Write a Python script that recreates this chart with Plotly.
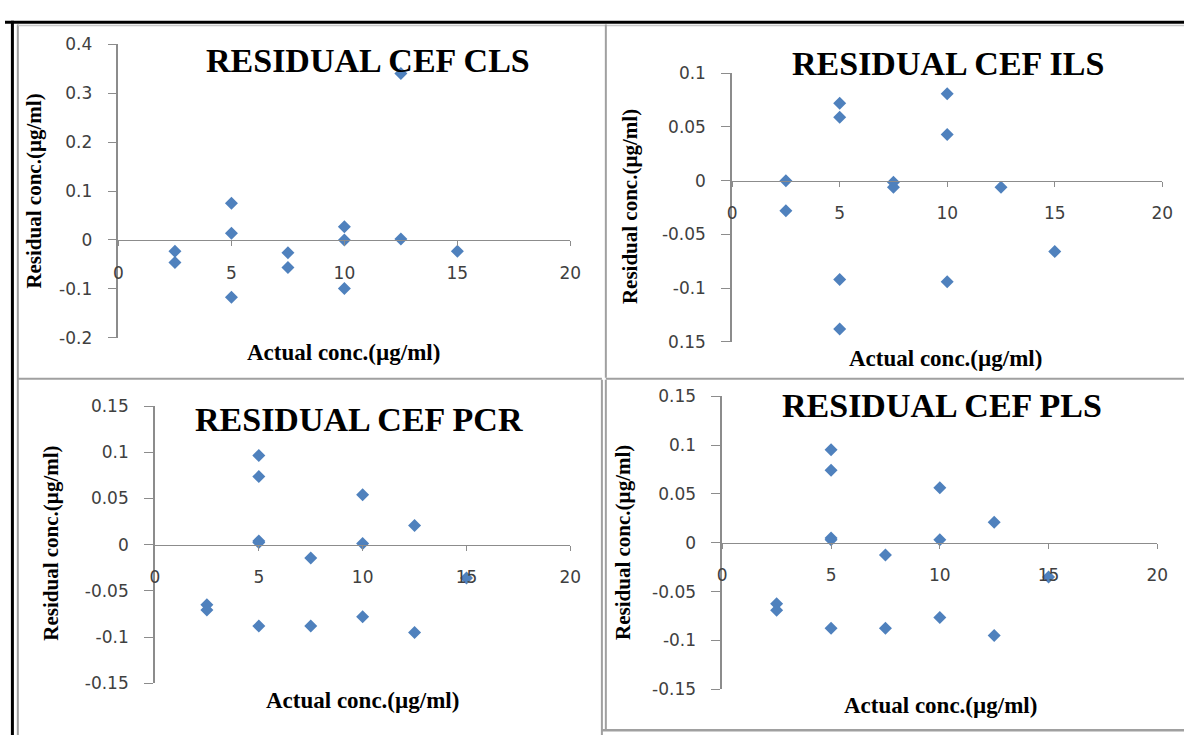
import plotly.graph_objects as go

# ---------------- data ----------------
titles = ["RESIDUAL CEF CLS", "RESIDUAL CEF ILS", "RESIDUAL CEF PCR", "RESIDUAL CEF PLS"]
x_title = "Actual conc.(µg/ml)"
y_title = "Residual conc.(µg/ml)"

cls_x = [2.5, 2.5, 5, 5, 5, 7.5, 7.5, 10, 10, 10, 12.5, 12.5, 15]
cls_y = [-0.023, -0.046, 0.075, 0.014, -0.117, -0.026, -0.056, 0.027, 0.0, -0.099, 0.34, 0.002, -0.023]

ils_x = [2.5, 2.5, 5, 5, 5, 5, 7.5, 7.5, 10, 10, 10, 12.5, 15]
ils_y = [0.0, -0.028, 0.072, 0.059, -0.092, -0.138, -0.0015, -0.006, 0.081, 0.043, -0.094, -0.006, -0.066]

pcr_x = [2.5, 2.5, 5, 5, 5, 5, 5, 7.5, 7.5, 10, 10, 10, 12.5, 12.5, 15]
pcr_y = [-0.065, -0.0705, 0.0965, 0.0737, 0.004, 0.0025, -0.088, -0.0144, -0.088, 0.054, 0.0014, -0.078, 0.0207, -0.095, -0.036]

pls_x = [2.5, 2.5, 5, 5, 5, 5, 5, 7.5, 7.5, 10, 10, 10, 12.5, 12.5, 15]
pls_y = [-0.0625, -0.069, 0.0953, 0.0744, 0.005, 0.003, -0.0874, -0.0126, -0.0874, 0.0565, 0.003, -0.0764, 0.021, -0.095, -0.035]

x_ticks = [0, 5, 10, 15, 20]
x_ticktext = ["0", "5", "10", "15", "20"]

cls_yticks = [-0.2, -0.1, 0, 0.1, 0.2, 0.3, 0.4]
cls_yticktext = ["-0.2", "-0.1", "0", "0.1", "0.2", "0.3", "0.4"]
ils_yticks = [-0.15, -0.1, -0.05, 0, 0.05, 0.1]
ils_yticktext = ["0.15", "-0.1", "-0.05", "0", "0.05", "0.1"]
pcr_yticks = [-0.15, -0.1, -0.05, 0, 0.05, 0.1, 0.15]
pcr_yticktext = ["-0.15", "-0.1", "-0.05", "0", "0.05", "0.1", "0.15"]
pls_yticks = pcr_yticks
pls_yticktext = pcr_yticktext

# ---------------- layout helpers ----------------
W, H = 1195, 745
def px(v):
    return v / W
def py(v):
    return 1 - v / H

panels = [
    # (x data, y data, yticks, yticktext, yrange, plot px box [x0,x1,ytop,ybottom], title pos, xtitle pos, ytitle pos)
    (cls_x, cls_y, cls_yticks, cls_yticktext, [-0.2, 0.4], [115, 573, 35, 337], (368, 52), (343, 352), (29, 186)),
    (ils_x, ils_y, ils_yticks, ils_yticktext, [-0.15, 0.1], [737, 1173, 65, 341], (956, 55), (953, 358), (633, 202)),
    (pcr_x, pcr_y, pcr_yticks, pcr_yticktext, [-0.15, 0.15], [152, 573, 407, 692], (359, 421), (362, 710), (47, 548)),
    (pls_x, pls_y, pls_yticks, pls_yticktext, [-0.15, 0.15], [727, 1168, 397, 698], (950, 406), (948, 715), (627, 547)),
]

axis_color = "#8c8c8c"
tick_font = dict(family="DejaVu Sans", size=17, color="#404040")
serif = "Liberation Serif"
marker_color = "#4F81BD"

fig = go.Figure()
layout = dict(
    width=W, height=H, margin=dict(l=0, r=0, t=0, b=0),
    paper_bgcolor="white", plot_bgcolor="white", showlegend=False,
)
annotations = []
shapes = []

for i, (xs, ys, yt, ytt, yr, box, tpos, xtpos, ytpos) in enumerate(panels):
    n = "" if i == 0 else str(i + 1)
    x0, x1, ytop, ybot = box
    ydom = [py(ybot), py(ytop)]
    xdom = [px(x0), px(x1)]
    zero_pos = ydom[0] + (0 - yr[0]) / (yr[1] - yr[0]) * (ydom[1] - ydom[0])
    fig.add_trace(go.Scatter(
        x=xs, y=ys, mode="markers",
        marker=dict(symbol="diamond", size=10, color=marker_color),
        xaxis="x" + n, yaxis="y" + n, cliponaxis=False,
    ))
    layout["xaxis" + n] = dict(
        domain=xdom, range=[0, 20], anchor="free", position=zero_pos,
        tickvals=x_ticks, ticktext=x_ticktext, ticks="outside", ticklen=5,
        tickcolor=axis_color, showline=True, linecolor=axis_color, linewidth=1.3,
        showgrid=False, zeroline=False, tickfont=tick_font, ticklabelstandoff=12,
    )
    layout["yaxis" + n] = dict(
        domain=ydom, range=yr, anchor="x" + n,
        tickvals=yt, ticktext=ytt, ticks="outside", ticklen=9,
        tickcolor=axis_color, showline=True, linecolor=axis_color, linewidth=1.6,
        showgrid=False, zeroline=False, tickfont=tick_font, ticklabelstandoff=12,
    )
    annotations.append(dict(
        text="<b>" + titles[i] + "</b>", x=px(tpos[0]), y=py(tpos[1]),
        xref="paper", yref="paper", showarrow=False, xanchor="center", yanchor="middle",
        font=dict(family=serif, size=34, color="black"),
    ))
    annotations.append(dict(
        text="<b>" + x_title + "</b>", x=px(xtpos[0]), y=py(xtpos[1]),
        xref="paper", yref="paper", showarrow=False, xanchor="center", yanchor="middle",
        font=dict(family=serif, size=23, color="black"),
    ))
    annotations.append(dict(
        text="<b>" + y_title + "</b>", x=px(ytpos[0]), y=py(ytpos[1]),
        xref="paper", yref="paper", showarrow=False, xanchor="center", yanchor="middle",
        textangle=-90, font=dict(family=serif, size=21, color="black"),
    ))

def line(xa, ya, xb, yb, color, width):
    shapes.append(dict(type="line", xref="paper", yref="paper",
                       x0=px(xa), y0=py(ya), x1=px(xb), y1=py(yb),
                       line=dict(color=color, width=width)))

grey = "#a0a0a0"
# panel frames
line(13, 15, 13, 745, grey, 2)      # inner left
line(13, 16, 1195, 16, "#c8c8c8", 1.5)  # inner top
line(13, 379, 605, 379, grey, 2)    # row divider left
line(609, 15, 609, 378, grey, 2)    # column divider top
line(609, 379, 1195, 379, grey, 2)  # row divider right
line(605, 380, 605, 745, grey, 2)   # column divider bottom
line(609, 380, 609, 740, grey, 2)   # panel 4 left
line(605, 740, 1195, 740, grey, 2.5)  # bottom line
# outer black border
line(0, 12.5, 1195, 12.5, "black", 3)
line(7.5, 11, 7.5, 745, "black", 3)

layout["annotations"] = annotations
layout["shapes"] = shapes
fig.update_layout(**layout)
fig.write_html("out.html")
